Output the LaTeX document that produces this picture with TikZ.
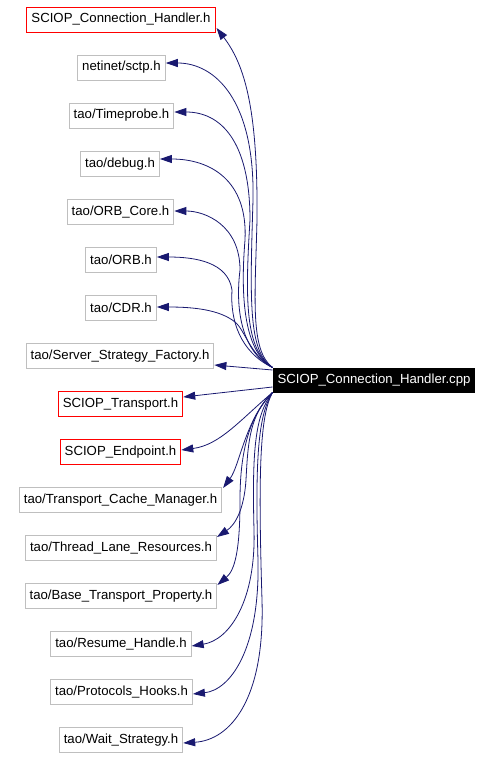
\documentclass[tikz,border=0pt]{standalone}
\usepackage{fontspec}
\setmainfont{Liberation Sans}
\usetikzlibrary{arrows.meta}
\definecolor{edgeblue}{RGB}{25,25,112}
\definecolor{boxgray}{RGB}{191,191,191}
\begin{document}
\begin{tikzpicture}[x=1pt,y=-1pt,
  file/.style={draw=boxgray, line width=1pt, minimum height=25pt, inner xsep=4.5pt, inner ysep=0pt, font=\fontsize{13.2}{15}\selectfont, text=black},
  redfile/.style={file, draw=red},
  rootfile/.style={file, fill=black, draw=black, text=white, minimum height=24pt},
  dep/.style={draw=edgeblue, line width=0.8pt, -{Triangle[length=12pt,width=8pt]}}]
\useasboundingbox (0,0) rectangle (494,758);
\node[redfile] (n1) at (121,19.5) {SCIOP\_Connection\_Handler.h};
\node[file] (n2) at (121.5,67.5) {netinet/sctp.h};
\node[file] (n3) at (121.5,115.5) {tao/Timeprobe.h};
\node[file] (n4) at (120,164) {tao/debug.h};
\node[file] (n5) at (120.5,212) {tao/ORB\_Core.h};
\node[file] (n6) at (121,260) {tao/ORB.h};
\node[file] (n7) at (121,308) {tao/CDR.h};
\node[file] (n8) at (120,356) {tao/Server\_Strategy\_Factory.h};
\node[redfile] (n9) at (120.5,404) {SCIOP\_Transport.h};
\node[redfile] (n10) at (120.5,452) {SCIOP\_Endpoint.h};
\node[file] (n11) at (120.5,500) {tao/Transport\_Cache\_Manager.h};
\node[file] (n12) at (121,548) {tao/Thread\_Lane\_Resources.h};
\node[file] (n13) at (121,596) {tao/Base\_Transport\_Property.h};
\node[file] (n14) at (121,644) {tao/Resume\_Handle.h};
\node[file] (n15) at (121.5,692) {tao/Protocols\_Hooks.h};
\node[file] (n16) at (121,740) {tao/Wait\_Strategy.h};
\node[rootfile] (root) at (374,380) {SCIOP\_Connection\_Handler.cpp};

% upper edges
\draw[dep] (root.north west) .. controls (250,350) and (255,300) .. (257,220) .. controls (258,110) and (245,65) .. ([xshift=1pt,yshift=-8.5pt]n1.east);
\draw[dep] (root.north west) .. controls (248,352) and (250,300) .. (253,200) .. controls (255,100) and (215,63) .. ([yshift=4.5pt]n2.east);
\draw[dep] (root.north west) .. controls (245,350) and (245,300) .. (250,220) .. controls (250,140) and (220,112) .. ([yshift=3.5pt]n3.east);
\draw[dep] (root.north west) .. controls (245,352) and (240,300) .. (245,240) .. controls (248,180) and (210,159) .. ([yshift=5pt]n4.east);
\draw[dep] (root.north west) .. controls (242,352) and (235,310) .. (240,270) .. controls (240,225) and (205,211) .. ([yshift=1pt]n5.east);
\draw[dep] (root.north west) .. controls (240,352) and (230,320) .. (232,290) .. controls (228,262) and (195,257) .. ([yshift=3pt]n6.east);
\draw[dep] (root.north west) .. controls (250,355) and (245,330) .. (235,322) .. controls (220,310) and (195,307) .. ([yshift=1pt]n7.east);
\draw[dep] ([yshift=10pt]root.west) -- ([yshift=-9pt]n8.east);
\draw[dep] ([yshift=-7pt]root.west) -- ([yshift=7pt]n9.east);
\draw[dep] (root.south west) .. controls (240,420) and (220,445) .. ([yshift=2pt]n10.east);
% lower edges
\draw[dep] (root.south west) .. controls (245,420) and (240,465) .. ([xshift=1pt,yshift=12pt]n11.east);
\draw[dep] (root.south west) .. controls (250,415) and (248,440) .. (246,480) .. controls (244,510) and (235,525) .. ([yshift=11pt]n12.east);
\draw[dep] (root.south west) .. controls (250,415) and (240,450) .. (240,500) .. controls (240,550) and (235,570) .. ([yshift=11pt]n13.east);
\draw[dep] (root.south west) .. controls (255,415) and (252,450) .. (254,530) .. controls (256,600) and (230,640) .. ([yshift=-2pt]n14.east);
\draw[dep] (root.south west) .. controls (258,415) and (255,460) .. (258,560) .. controls (260,650) and (230,690) .. ([yshift=-2pt]n15.east);
\draw[dep] (root.south west) .. controls (260,415) and (258,470) .. (262,600) .. controls (265,700) and (230,740) .. ([yshift=-3pt]n16.east);
\end{tikzpicture}
\end{document}
